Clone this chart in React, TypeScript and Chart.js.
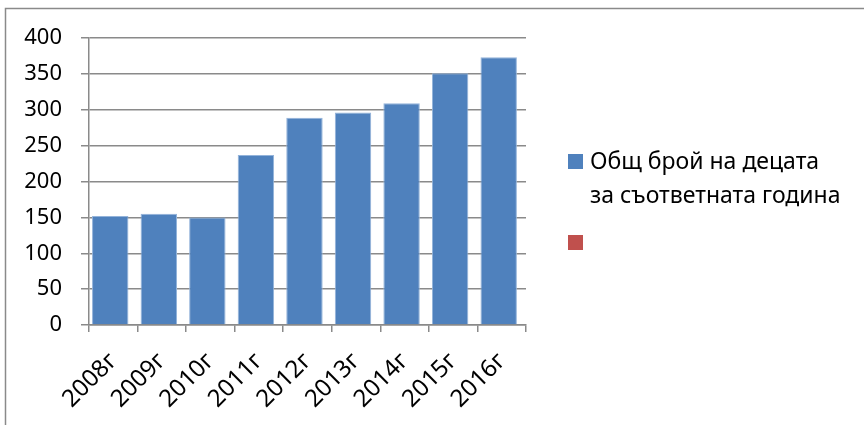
import React, { useEffect, useRef } from "react";
import { Chart, registerables } from "chart.js";

Chart.register(...registerables);

const categories = ["2008г", "2009г", "2010г", "2011г", "2012г", "2013г", "2014г", "2015г", "2016г"];
const childrenTotal = [152, 155, 150, 237, 289, 296, 309, 351, 373];
const emptySeries: (number | null)[] = [null, null, null, null, null, null, null, null, null];
const seriesLabels = [["Общ брой на децата", "за съответната година"], [""]];
const seriesColors = ["#4F81BD", "#C0504D"];
const yTicks = { min: 0, max: 400, step: 50 };

const FONT = "'Noto Sans', sans-serif";

const frameAndLegend = {
  id: "frameAndLegend",
  afterDraw(chart: any) {
    const ctx = chart.ctx as CanvasRenderingContext2D;
    ctx.save();
    // outer chart frame (top and left visible)
    ctx.strokeStyle = "#8a8a8a";
    ctx.lineWidth = 1.5;
    ctx.beginPath();
    ctx.moveTo(5.5, chart.height);
    ctx.lineTo(5.5, 8.5);
    ctx.lineTo(chart.width, 8.5);
    ctx.stroke();

    // legend
    const boxX = 568;
    const textX = 590;
    const lineH = 34;
    let y = 169;
    ctx.font = `23px ${FONT}`;
    ctx.textBaseline = "alphabetic";
    ctx.textAlign = "left";
    chart.data.datasets.forEach((ds: any, i: number) => {
      ctx.fillStyle = ds.backgroundColor;
      ctx.fillRect(boxX, y - 15, 15, 15);
      const lines: string[] = seriesLabels[i];
      ctx.fillStyle = "#000";
      lines.forEach((ln, j) => {
        ctx.fillText(ln, textX, y + j * lineH);
      });
      y += lines.length * lineH + 13;
    });
    ctx.restore();
  },
};

export default function App() {
  const ref = useRef<HTMLCanvasElement>(null);
  useEffect(() => {
    if (!ref.current) return;
    const chart = new Chart(ref.current, {
      type: "bar",
      data: {
        labels: categories,
        datasets: [
          {
            label: seriesLabels[0].join(" "),
            data: childrenTotal,
            backgroundColor: seriesColors[0],
            borderColor: "#93B3DA",
            borderWidth: 1,
            barPercentage: 6,
            categoryPercentage: 0.25,
          } as any,
          {
            label: "",
            data: emptySeries,
            backgroundColor: seriesColors[1],
            barPercentage: 6,
            categoryPercentage: 0.25,
          } as any,
        ],
      },
      options: {
        responsive: false,
        animation: false,
        layout: { padding: { left: 0, top: 38, right: 338, bottom: 0 } },
        plugins: {
          legend: { display: false },
          tooltip: { enabled: false },
        },
        scales: {
          x: {
            offset: true,
            grid: {
              display: true,
              offset: true,
              drawOnChartArea: false,
              drawTicks: true,
              tickLength: 7,
              color: "#8a8a8a",
              lineWidth: 1.5,
            },
            border: { display: true, color: "#8a8a8a", width: 1.5 },
            ticks: {
              minRotation: 45,
              maxRotation: 45,
              autoSkip: false,
              padding: 15,
              color: "#000",
              font: { family: FONT, size: 24 },
            },
            afterFit(scale: any) {
              scale.height = 100;
            },
          },
          y: {
            min: yTicks.min,
            max: yTicks.max,
            ticks: {
              stepSize: yTicks.step,
              padding: 19,
              color: "#000",
              font: { family: FONT, size: 22 },
            },
            grid: {
              color: "#8a8a8a",
              lineWidth: 1.5,
              tickLength: 8,
            },
            border: { display: true, color: "#8a8a8a", width: 1.5 },
            afterFit(scale: any) {
              scale.width = 89;
            },
          },
        },
      },
      plugins: [frameAndLegend],
    });
    return () => chart.destroy();
  }, []);
  return (
    <div style={{ position: "absolute", left: 0, top: 0, width: 864, height: 425, background: "#fff" }}>
      <canvas ref={ref} width={864} height={425} style={{ display: "block" }} />
    </div>
  );
}
